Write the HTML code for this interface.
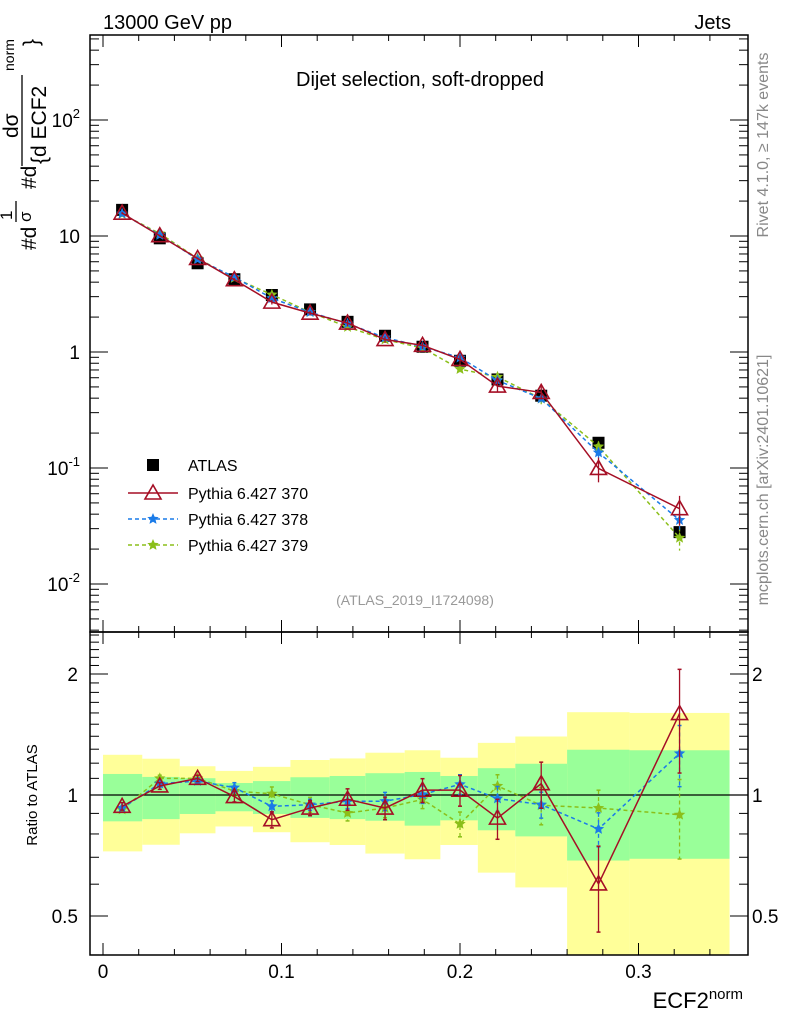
<!DOCTYPE html>
<html><head><meta charset="utf-8"><style>
body{margin:0;background:#fff}
svg{font-family:"Liberation Sans",sans-serif}
</style></head><body>
<svg id="c" width="786" height="1024" viewBox="0 0 786 1024" xmlns="http://www.w3.org/2000/svg">
<g id="bands"></g>
<g id="axes"></g>
<g id="series"></g>
<g id="texts">
<text x="103" y="29" font-size="20">13000 GeV pp</text>
<text x="731" y="29" font-size="20" text-anchor="end">Jets</text>
<text x="420" y="86" font-size="20" text-anchor="middle">Dijet selection, soft-dropped</text>
<text x="415" y="605" font-size="14" fill="#999" text-anchor="middle">(ATLAS_2019_I1724098)</text>
<text transform="translate(768,145) rotate(-90)" font-size="16" fill="#888" text-anchor="middle">Rivet 4.1.0, ≥ 147k events</text>
<text transform="translate(768,480) rotate(-90)" font-size="16" fill="#888" text-anchor="middle">mcplots.cern.ch [arXiv:2401.10621]</text>
<text transform="translate(37,795) rotate(-90)" font-size="15" text-anchor="middle">Ratio to ATLAS</text>
<text x="743" y="1008" font-size="22" text-anchor="end">ECF2<tspan font-size="15" dy="-9">norm</tspan></text>
<g font-size="21">
<text transform="translate(36,250) rotate(-90)">#d</text>
<text transform="translate(12,220) rotate(-90)" font-size="17">1</text>
<text transform="translate(31,222) rotate(-90)" font-size="17">σ</text>
<line x1="16" y1="201" x2="16" y2="222" stroke="#000" stroke-width="1.3"/>
<text transform="translate(36,189) rotate(-90)">#d</text>
<text transform="translate(18,138) rotate(-90)">dσ</text>
<line x1="22" y1="75" x2="22" y2="166" stroke="#000" stroke-width="1.3"/>
<text transform="translate(46,164) rotate(-90)">{d ECF2</text>
<text transform="translate(14,71) rotate(-90)" font-size="14">norm</text>
<text transform="translate(38,46) rotate(-90)">}</text>
</g>
</g>
<g id="legend"></g>
</svg>
<script>
const xs=[0.0107,0.0318,0.053,0.0736,0.0946,0.116,0.137,0.158,0.179,0.2,0.221,0.2455,0.2776,0.323];
const dataVals=[16.8,9.55,5.82,4.24,3.1,2.33,1.82,1.38,1.11,0.84,0.58,0.42,0.165,0.028];
const ratio370=[0.937,1.053,1.1,0.991,0.868,0.928,0.976,0.928,1.028,1.028,0.876,1.067,0.601,1.594];
const err370=[0.02,0.02,0.02,0.03,0.04,0.04,0.06,0.06,0.07,0.09,0.1,0.14,0.145,0.46];
const ratio378=[0.928,1.067,1.083,1.043,0.937,0.946,0.965,0.965,1.003,1.063,0.98,0.946,0.823,1.269];
const err378=[0.01,0.02,0.02,0.03,0.03,0.03,0.04,0.05,0.05,0.06,0.07,0.07,0.08,0.22];
const ratio379=[0.92,1.1,1.1,1.023,1.007,0.946,0.902,0.928,0.975,0.847,1.053,0.943,0.928,0.893];
const err379=[0.01,0.02,0.02,0.03,0.04,0.04,0.04,0.05,0.05,0.06,0.07,0.1,0.1,0.2];
const binEdges=[0,0.022,0.043,0.063,0.084,0.105,0.127,0.147,0.169,0.189,0.21,0.231,0.26,0.295,0.351];
const yellowHi=[1.259,1.231,1.179,1.148,1.175,1.222,1.233,1.274,1.292,1.238,1.348,1.398,1.607,1.6];
const yellowLo=[0.724,0.752,0.803,0.835,0.808,0.763,0.751,0.715,0.692,0.751,0.641,0.589,0.3,0.3];
const greenHi=[1.128,1.109,1.101,1.071,1.083,1.107,1.115,1.133,1.141,1.115,1.166,1.196,1.296,1.292];
const greenLo=[0.86,0.871,0.897,0.911,0.897,0.877,0.871,0.863,0.839,0.865,0.817,0.789,0.687,0.694];
const xTicks=[0,0.1,0.2,0.3];
const xTickLabels=["0","0.1","0.2","0.3"];
const yTickExp=[2,1,0,-1,-2];
const rTicks=[0.5,1,2];
const rTickLabels=["0.5","1","2"];

const L=90,R=748,T=35,M=632,B=955;
const X=v=>103+v*1785;
const Y=v=>236-(Math.log10(v)-1)*116;
const RY=v=>Math.max(M,Math.min(B,795-Math.log10(v)*402));
const NS="http://www.w3.org/2000/svg";
function mk(tag,attrs,parent){const e=document.createElementNS(NS,tag);for(const k in attrs)e.setAttribute(k,attrs[k]);parent.appendChild(e);return e;}
const bands=document.getElementById('bands'),axes=document.getElementById('axes'),ser=document.getElementById('series'),leg=document.getElementById('legend');

for(let i=0;i<yellowHi.length;i++){
 const x0=X(binEdges[i]),x1=X(binEdges[i+1]);
 let r=mk('rect',{x:x0,y:RY(yellowHi[i]),width:x1-x0,height:RY(yellowLo[i])-RY(yellowHi[i]),fill:'#ffff99'},bands);
 
 
 let g=mk('rect',{x:x0,y:RY(greenHi[i]),width:x1-x0,height:RY(greenLo[i])-RY(greenHi[i]),fill:'#99ff99'},bands);
 
 
}
let f1=mk('rect',{x:L,y:T,width:R-L,height:M-T,fill:'none',stroke:'#000','stroke-width':1.5},axes);


let f2=mk('rect',{x:L,y:M,width:R-L,height:B-M,fill:'none',stroke:'#000','stroke-width':1.5},axes);


let one=mk('line',{x1:L,x2:R,y1:RY(1),y2:RY(1),stroke:'#000','stroke-width':1.3},axes);


for(let v=0;v<=0.35;v+=0.02){
 const x=X(v),maj=Math.abs(v*10-Math.round(v*10))<1e-6;const len=maj?12:6;
 mk('line',{x1:x,x2:x,y1:B,y2:B-len,stroke:'#000'},axes);
 mk('line',{x1:x,x2:x,y1:M,y2:M+len,stroke:'#000'},axes);
 mk('line',{x1:x,x2:x,y1:M,y2:M-len,stroke:'#000'},axes);
 mk('line',{x1:x,x2:x,y1:T,y2:T+len,stroke:'#000'},axes);
}
xTicks.forEach((v,i)=>{let t=mk('text',{x:X(v),y:978,'font-size':19,'text-anchor':'middle'},axes);t.textContent=xTickLabels[i];
 
 });
for(let e=-3;e<=2;e++){for(let k=1;k<=9;k++){const v=k*Math.pow(10,e);const y=Y(v);if(y<T||y>M)continue;const len=k==1?18:9;
 mk('line',{x1:L,x2:L+len,y1:y,y2:y,stroke:'#000'},axes);mk('line',{x1:R,x2:R-len,y1:y,y2:y,stroke:'#000'},axes);}}
yTickExp.forEach(e=>{const y=Y(Math.pow(10,e))+7;let t;
 if(e==1){t=mk('text',{x:80,y:y,'font-size':19,'text-anchor':'end'},axes);t.textContent='10';}
 else if(e==0){t=mk('text',{x:80,y:y,'font-size':19,'text-anchor':'end'},axes);t.textContent='1';}
 else{t=mk('text',{x:80,y:y,'font-size':19,'text-anchor':'end'},axes);t.innerHTML='10<tspan font-size="13" dy="-9">'+e+'</tspan>';}
 
 });
for(let v=0.4;v<=2.55;v+=0.1){const y=RY(v);if(y<=M||y>=B)continue;const maj=[0.5,1,2].some(m=>Math.abs(m-v)<1e-6);const len=maj?18:9;
 mk('line',{x1:L,x2:L+len,y1:y,y2:y,stroke:'#000'},axes);mk('line',{x1:R,x2:R-len,y1:y,y2:y,stroke:'#000'},axes);}
rTicks.forEach((v,i)=>{const y=RY(v)+7;
 let a=mk('text',{x:78,y:y,'font-size':19,'text-anchor':'end'},axes);a.textContent=rTickLabels[i];
 
 
 let b=mk('text',{x:752,y:y,'font-size':19},axes);b.textContent=rTickLabels[i];
 
 });

function star(cx,cy,r){let p=[];for(let i=0;i<10;i++){const a=-Math.PI/2+i*Math.PI/5;const rr=i%2?r*0.45:r;p.push((cx+rr*Math.cos(a)).toFixed(1)+','+(cy+rr*Math.sin(a)).toFixed(1));}return p.join(' ');}
function marker(g,type,x,y,col){
 if(type=='tri') return mk('polygon',{points:`${x},${y-8} ${x-8},${y+6} ${x+8},${y+6}`,fill:'none',stroke:col,'stroke-width':1.6},g);
 return mk('polygon',{points:star(x,y,6),fill:col},g);
}
const models=[
 {name:'pythia-370',ratio:ratio370,err:err370,col:'#a50f25',dash:'',m:'tri',label:'Pythia 6.427 370'},
 {name:'pythia-378',ratio:ratio378,err:err378,col:'#1a7be8',dash:'4,3',m:'star',label:'Pythia 6.427 378'},
 {name:'pythia-379',ratio:ratio379,err:err379,col:'#8bbf1a',dash:'4,3',m:'star',label:'Pythia 6.427 379'}
];
const dg=mk('g',{},ser);


xs.forEach((x,i)=>{let r=mk('rect',{x:X(x)-6,y:Y(dataVals[i])-6,width:12,height:12,fill:'#000'},dg);
 
 });
[2,1,0].forEach(k=>{const md=models[k];
 const g=mk('g',{},ser);
 
 
 const top=xs.map((x,i)=>[X(x),Y(dataVals[i]*md.ratio[i])]);
 const bot=xs.map((x,i)=>[X(x),RY(md.ratio[i])]);
 mk('polyline',{points:top.map(p=>p.join(',')).join(' '),fill:'none',stroke:md.col,'stroke-width':1.5,'stroke-dasharray':md.dash},g);
 mk('polyline',{points:bot.map(p=>p.join(',')).join(' '),fill:'none',stroke:md.col,'stroke-width':1.5,'stroke-dasharray':md.dash},g);
 xs.forEach((x,i)=>{const px=X(x);const rv=md.ratio[i],e=md.err[i];
  const v=dataVals[i]*rv;
  mk('line',{x1:px,x2:px,y1:Y(v*(1+e/rv)),y2:Y(v*Math.max(0.05,1-e/rv)),stroke:md.col,'stroke-width':1.3,'stroke-dasharray':md.dash},g);
  mk('line',{x1:px,x2:px,y1:RY(rv+e),y2:RY(Math.max(0.3,rv-e)),stroke:md.col,'stroke-width':1.3,'stroke-dasharray':md.dash},g);
  [RY(rv+e),RY(Math.max(0.3,rv-e))].forEach(yy=>mk('line',{x1:px-2,x2:px+2,y1:yy,y2:yy,stroke:md.col,'stroke-width':1.5},g));
  let a=marker(g,md.m,px,Y(v),md.col);
  
  
  let b=marker(g,md.m,px,RY(rv),md.col);
  
  
 });
});
let lr=mk('rect',{x:147,y:459,width:12,height:12,fill:'#000'},leg);


let lt=mk('text',{x:188,y:471,'font-size':16},leg);lt.textContent='ATLAS';


models.forEach((md,i)=>{const y=493+i*26;
 const g=mk('g',{},leg);
 
 
 mk('line',{x1:128,x2:178,y1:y,y2:y,stroke:md.col,'stroke-width':1.5,'stroke-dasharray':md.dash},g);
 marker(g,md.m,153,y,md.col);
 const t=mk('text',{x:188,y:y+6,'font-size':16},g);t.textContent=md.label;});
</script>
</body></html>
